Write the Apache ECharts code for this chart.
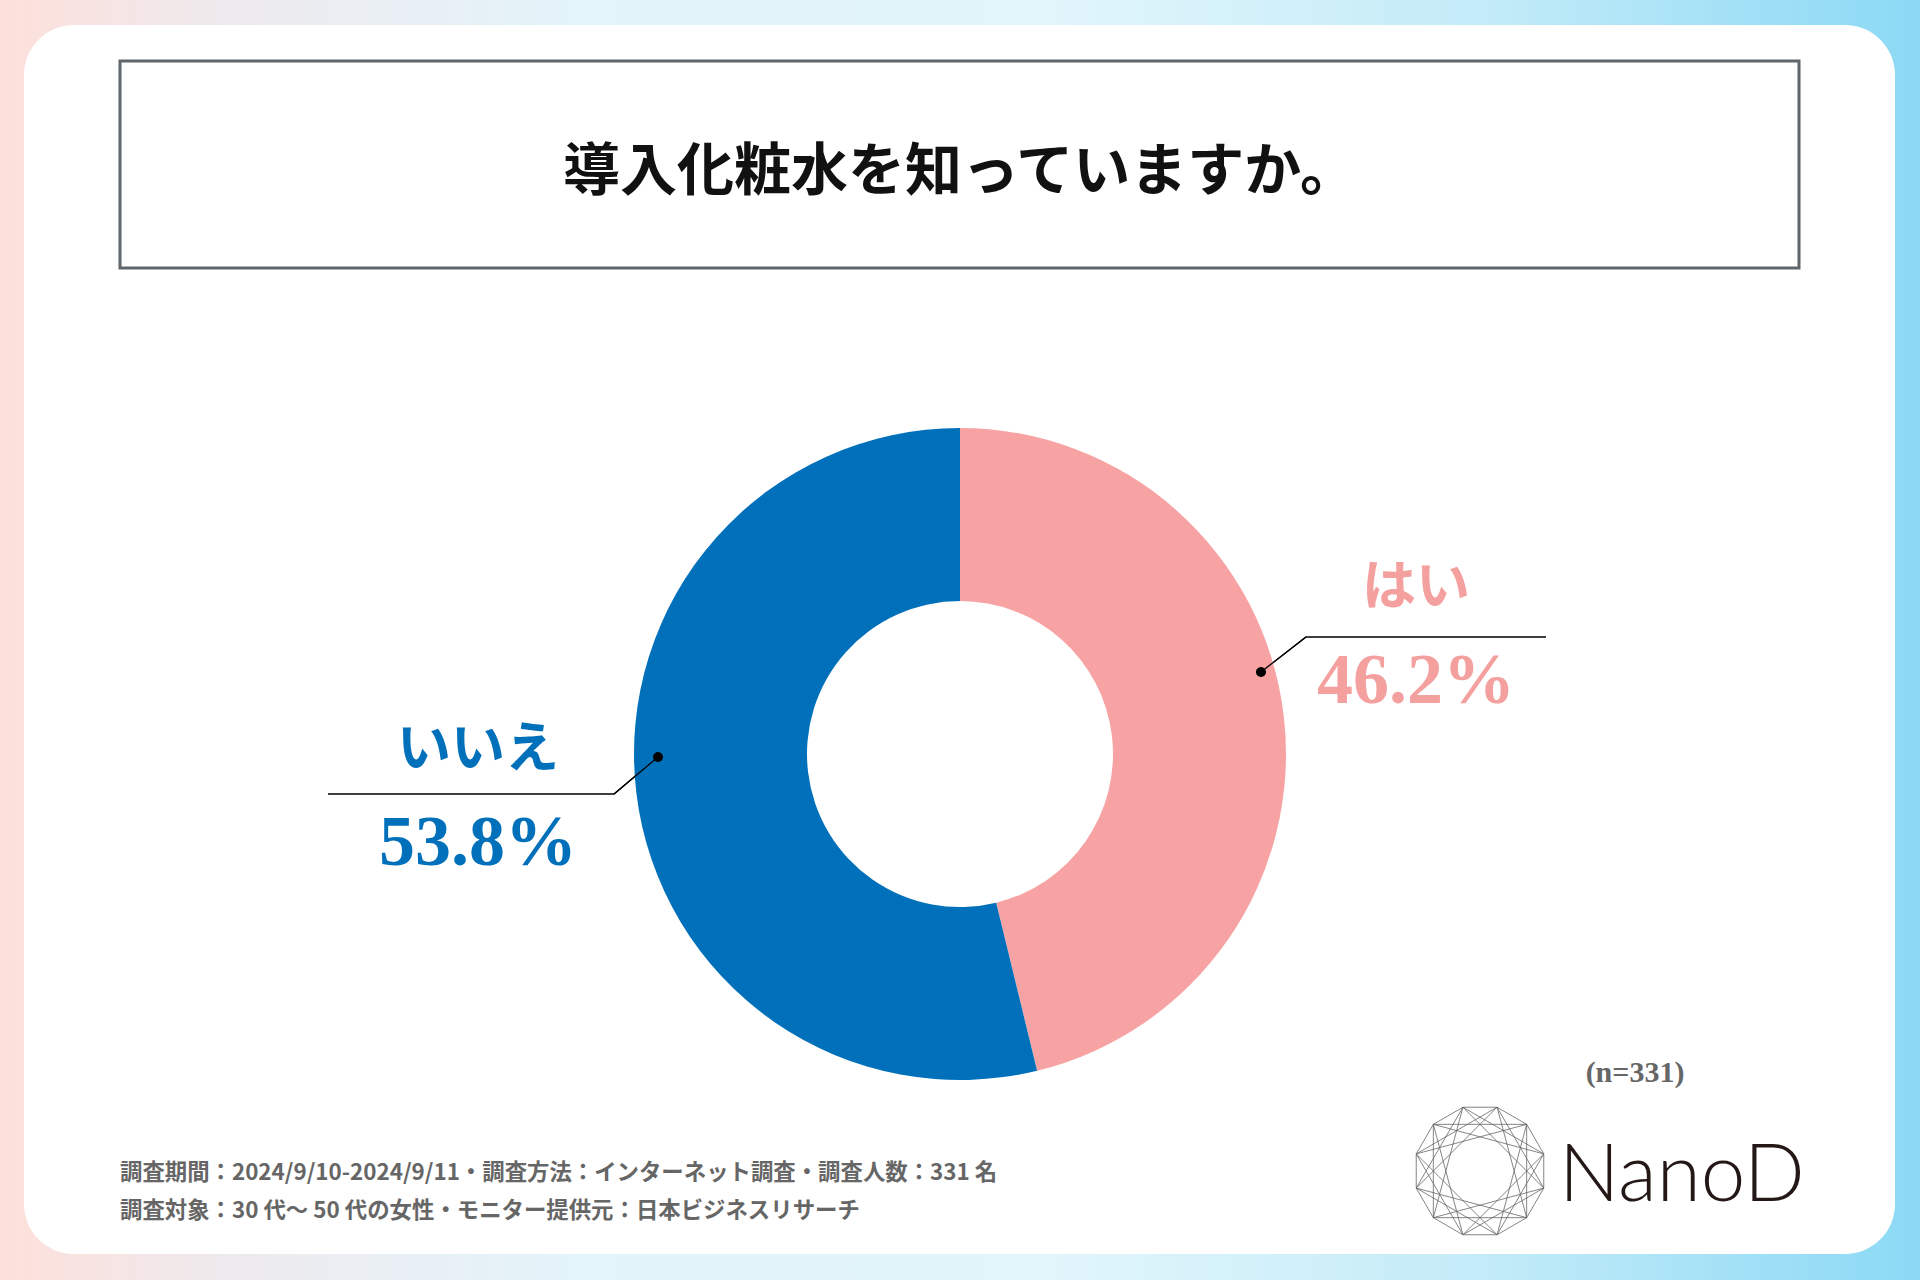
<!DOCTYPE html>
<html>
<head>
<meta charset="utf-8">
<script src="https://cdn.jsdelivr.net/npm/echarts@6/dist/echarts.min.js"></script>
<style>
  html, body { margin: 0; padding: 0; }
  #chart { width: 1920px; height: 1280px; }
</style>
</head>
<body>
<div id="chart"></div>
<script>
// 回答カテゴリと割合(%)
const categories = ['はい', 'いいえ'];
const values = [46.2, 53.8];
const colors = ['#f8a3a3', '#0070bb'];
const labelColors = ['#f4a09f', '#0070bb'];

const titleText = '導入化粧水を知っていますか。';
const sampleText = '(n=331)';
const notes = [
  '調査期間：2024/9/10-2024/9/11・調査方法：インターネット調査・調査人数：331 名',
  '調査対象：30 代～ 50 代の女性・モニター提供元：日本ビジネスリサーチ'
];

// ラベルの位置と引き出し線
const labelSpots = [
  {x: 1416, y: 631, line: [[1261, 672], [1306, 637], [1546, 637]]},
  {x: 478, y: 793, line: [[658, 757], [614, 794], [328, 794]]}
];

const jp = '"Noto Sans CJK JP", sans-serif';
const serif = '"Liberation Serif", "DejaVu Serif", serif';

// ロゴの多角形(12角形と星形)
function logoShapes(cx, cy, r) {
  const pts = [];
  for (let k = 0; k < 12; k++) {
    const a = (15 + 30 * k) * Math.PI / 180;
    pts.push([cx + r * Math.cos(a), cy + r * Math.sin(a)]);
  }
  const shapes = [];
  const line = {stroke: '#666', lineWidth: 0.8, fill: null};
  shapes.push({type: 'polygon', shape: {points: pts}, style: line});
  for (let s = 0; s < 3; s++) {
    shapes.push({type: 'polygon', shape: {points: [pts[s], pts[s + 3], pts[s + 6], pts[s + 9]]}, style: line});
  }
  for (let s = 0; s < 4; s++) {
    shapes.push({type: 'polygon', shape: {points: [pts[s], pts[s + 4], pts[s + 8]]}, style: line});
  }
  return shapes;
}

// 点と、リングの上に重なる線の最初の区間
const dotMarks = [];
labelSpots.forEach(s => {
  dotMarks.push({type: 'polyline', z: 10, shape: {points: [s.line[0], s.line[1]]}, style: {stroke: '#000', lineWidth: 1.3, fill: null}});
  dotMarks.push({type: 'circle', z: 10, shape: {cx: s.line[0][0], cy: s.line[0][1], r: 5}, style: {fill: '#000'}});
});

const chart = echarts.init(document.getElementById('chart'), null, {renderer: 'svg'});

const option = {
  backgroundColor: new echarts.graphic.LinearGradient(0, 0, 1, 0, [
    {offset: 0, color: '#fde0da'},
    {offset: 0.12, color: '#eeeaee'},
    {offset: 0.3, color: '#e3f4fa'},
    {offset: 0.55, color: '#e1f5fb'},
    {offset: 0.78, color: '#c2ebf8'},
    {offset: 1, color: '#8bd9f5'}
  ]),
  animation: false,
  graphic: [
    {type: 'rect', z: 0, shape: {x: 24, y: 25, width: 1871, height: 1229, r: 50}, style: {fill: '#fff'}},
    {type: 'rect', z: 1, shape: {x: 120, y: 61, width: 1679, height: 207}, style: {fill: null, stroke: '#5f676c', lineWidth: 3}},
    {type: 'text', z: 2, x: 960, y: 165, style: {
      text: titleText, fontSize: 57, fontWeight: 'bold', fontFamily: jp,
      fill: '#111', align: 'center', verticalAlign: 'middle'}},
    {type: 'text', z: 2, x: 120, y: 1170, style: {
      text: notes[0], fontSize: 22.4, fontWeight: 'bold', fontFamily: jp,
      fill: '#666', align: 'left', verticalAlign: 'middle'}},
    {type: 'text', z: 2, x: 120, y: 1208, style: {
      text: notes[1], fontSize: 22.4, fontWeight: 'bold', fontFamily: jp,
      fill: '#666', align: 'left', verticalAlign: 'middle'}},
    {type: 'text', z: 2, x: 1635, y: 1071, style: {
      text: sampleText, fontSize: 30, fontWeight: 'bold', fontFamily: serif,
      fill: '#666', align: 'center', verticalAlign: 'middle'}},
    {type: 'text', z: 2, x: 1559, y: 1170, style: {
      text: 'NanoD', fontSize: 80, fontWeight: 300, fontFamily: 'Lato, "Noto Sans", sans-serif',
      fill: '#231815', align: 'left', verticalAlign: 'middle'}},
    {type: 'group', z: 2, children: logoShapes(1480, 1171, 66)}
  ].concat(dotMarks),
  series: [{
    type: 'pie',
    z: 5,
    center: [960, 754],
    radius: [153, 326],
    startAngle: 90,
    clockwise: true,
    silent: true,
    data: categories.map((name, i) => ({
      name: name,
      value: values[i],
      itemStyle: {color: colors[i]},
      label: {
        rich: {
          n: {fontSize: 54, fontWeight: 'bold', fontFamily: jp, color: labelColors[i], lineHeight: 95, align: 'center'},
          v: {fontSize: 72, fontWeight: 'bold', fontFamily: serif, color: labelColors[i], lineHeight: 100, align: 'center'}
        }
      }
    })),
    label: {
      show: true,
      position: 'outside',
      formatter: '{n|{b}}\n{v|{c}%}'
    },
    labelLine: {
      show: true,
      length: 20,
      length2: 20,
      lineStyle: {color: '#000', width: 1.3}
    },
    labelLayout: function (params) {
      const s = labelSpots[params.dataIndex];
      return {
        x: s.x,
        y: s.y,
        align: 'center',
        verticalAlign: 'middle',
        labelLinePoints: s.line
      };
    }
  }]
};

chart.setOption(option);
</script>
</body>
</html>
